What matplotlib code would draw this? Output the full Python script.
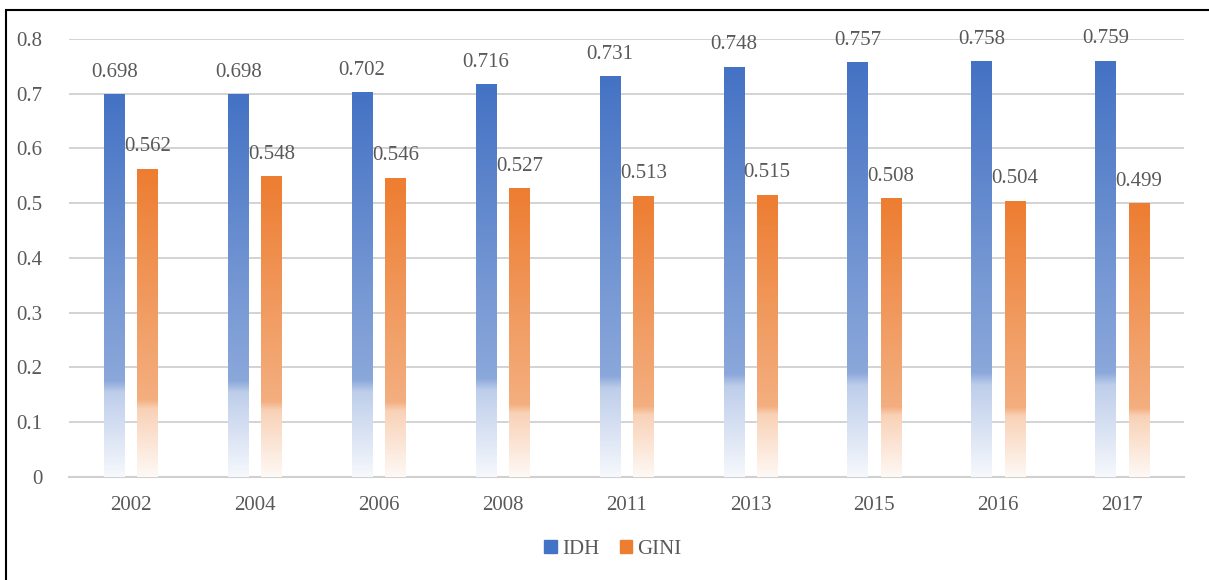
import matplotlib
matplotlib.use("Agg")
import matplotlib.pyplot as plt
import matplotlib.patches as mpatches
import numpy as np
from matplotlib.colors import to_rgb

years = ["2002", "2004", "2006", "2008", "2011", "2013", "2015", "2016", "2017"]
idh = [0.698, 0.698, 0.702, 0.716, 0.731, 0.748, 0.757, 0.758, 0.759]
gini = [0.562, 0.548, 0.546, 0.527, 0.513, 0.515, 0.508, 0.504, 0.499]

blue = "#4472C4"
orange = "#ED7D31"
txt = "#595959"

plt.rcParams["font.family"] = ["Liberation Serif", "DejaVu Serif"]

# alpha profile along the bar height (0 = bottom, 1 = top)
fpts = [0.0, 0.22, 0.25, 0.5, 1.0]
apts = [0.05, 0.35, 0.62, 0.74, 1.0]


def grad_bar(ax, xc, w, h, color):
    n = 200
    f = np.linspace(0, 1, n)
    a = np.interp(f, fpts, apts)
    r, g, b = to_rgb(color)
    img = np.ones((n, 1, 3))
    img[:, 0, 0] = 1 - (1 - r) * a
    img[:, 0, 1] = 1 - (1 - g) * a
    img[:, 0, 2] = 1 - (1 - b) * a
    ax.imshow(img, extent=[xc - w / 2, xc + w / 2, 0, h], origin="lower",
              aspect="auto", interpolation="bilinear", zorder=3)


fig = plt.figure(figsize=(12.09, 5.8), dpi=100)
ax = fig.add_axes([0.0571, 0.1776, 0.9223, 0.7552])

x = np.arange(len(years))
bw = 0.165
off = 0.135
for i in range(len(years)):
    grad_bar(ax, x[i] - off, bw, idh[i], blue)
    grad_bar(ax, x[i] + off, bw, gini[i], orange)
    ax.text(x[i] - off, idh[i] + 0.041, f"{idh[i]:.3f}", ha="center", va="center",
            fontsize=15, color=txt, zorder=4)
    ax.text(x[i] + off, gini[i] + 0.041, f"{gini[i]:.3f}", ha="center", va="center",
            fontsize=15, color=txt, zorder=4)

ax.set_xlim(-0.5, len(years) - 0.5)
ax.set_ylim(0, 0.8)
ax.set_yticks(np.arange(0, 0.81, 0.1))
ax.set_yticklabels(["0"] + [f"{v:.1f}" for v in np.arange(0.1, 0.81, 0.1)])
ax.set_xticks(x)
ax.set_xticklabels(years)
ax.tick_params(axis="both", length=0, labelsize=15, colors=txt)
ax.tick_params(axis="y", pad=19)
ax.tick_params(axis="x", pad=14)
ax.yaxis.grid(True, color="#d0d0d0", linewidth=1.3, zorder=0)
ax.set_axisbelow(True)
for s in ["top", "right", "left"]:
    ax.spines[s].set_visible(False)
ax.spines["bottom"].set_color("#d0d0d0")
ax.spines["bottom"].set_linewidth(1.5)

handles = [mpatches.Patch(color=blue, label="IDH"), mpatches.Patch(color=orange, label="GINI")]
leg = fig.legend(handles=handles, loc="center", bbox_to_anchor=(0.507, 0.053), ncol=2,
                 frameon=False, fontsize=15, handlelength=0.6, handleheight=0.6,
                 handletextpad=0.25, columnspacing=1.0)
for t in leg.get_texts():
    t.set_color(txt)

# outer frame
fig.patches.append(mpatches.Rectangle((6 / 1209, -0.1), 1.2, 1 - 10 / 580 + 0.1,
                                      transform=fig.transFigure, fill=False,
                                      edgecolor="black", linewidth=1.5))

fig.savefig("out.png", dpi=100)
